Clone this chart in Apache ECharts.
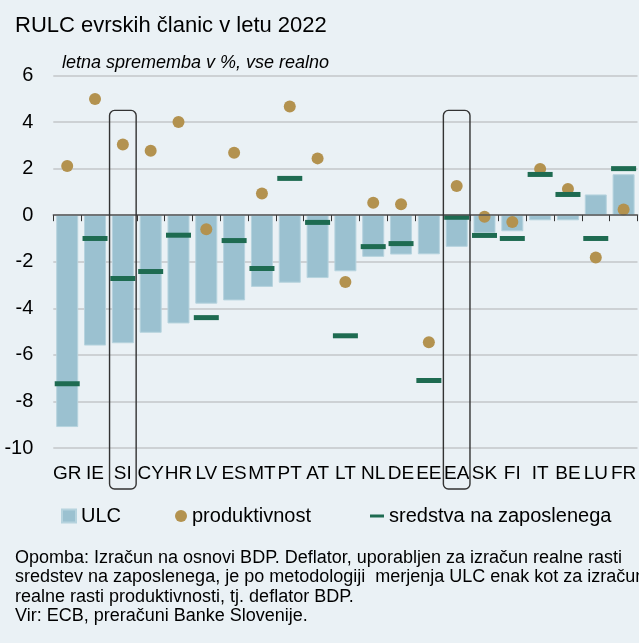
<!DOCTYPE html>
<html>
<head>
<meta charset="utf-8">
<title>RULC evrskih članic v letu 2022</title>
<style>
body{margin:0;padding:0;background:#eaf1f5;}
#main{width:639px;height:643px;}
</style>
</head>
<body>
<div id="main"></div>
<script src="https://cdn.jsdelivr.net/npm/echarts@6/dist/echarts.min.js"></script>
<script>
var countries=['GR','IE','SI','CY','HR','LV','ES','MT','PT','AT','LT','NL','DE','EE','EA','SK','FI','IT','BE','LU','FR'];
var ulc=[-9.1,-5.6,-5.5,-5.05,-4.65,-3.8,-3.66,-3.08,-2.9,-2.7,-2.41,-1.79,-1.69,-1.68,-1.36,-0.76,-0.69,-0.22,-0.22,0.89,1.76];
var produktivnost=[2.11,4.99,3.04,2.77,4.0,-0.6,2.68,0.93,4.67,2.44,-2.87,0.53,0.47,-5.46,1.25,-0.07,-0.29,1.98,1.12,-1.82,0.24];
var sredstva=[-7.24,-1.0,-2.72,-2.42,-0.86,-4.4,-1.09,-2.29,1.58,-0.31,-5.18,-1.35,-1.22,-7.1,-0.09,-0.87,-1.0,1.75,0.89,-1.0,2.0];
var boxed=['SI','EA'];
var notes='Opomba: Izračun na osnovi BDP. Deflator, uporabljen za izračun realne rasti\nsredstev na zaposlenega, je po metodologiji  merjenja ULC enak kot za izračun\nrealne rasti produktivnosti, tj. deflator BDP.\nVir: ECB, preračuni Banke Slovenije.';

var font="'Liberation Sans', Arial, sans-serif";
var colors=['#9bc1d0','#b3924f','#1e6b51'];
var myChart=echarts.init(document.getElementById('main'));
var legendText={fontFamily:font,fontSize:20,color:'#000'};
var option={
  backgroundColor:'#eaf1f5',
  animation:false,
  title:[
    {text:'RULC evrskih članic v letu 2022',left:10,top:10,
     textStyle:{fontFamily:font,fontSize:22,fontWeight:'normal',color:'#000'}},
    {text:'letna sprememba v %, vse realno',left:57,top:49,
     textStyle:{fontFamily:font,fontSize:18,fontStyle:'italic',fontWeight:'normal',color:'#000'}},
    {text:notes,left:10,top:543,
     textStyle:{fontFamily:font,fontSize:18,lineHeight:19.5,fontWeight:'normal',color:'#000'}}
  ],
  legend:[
    {data:[{name:'ULC',icon:'rect'}],left:56,top:501,itemWidth:14,itemHeight:13,textStyle:legendText},
    {data:[{name:'produktivnost',icon:'circle'}],left:170,top:501,itemWidth:12,itemHeight:12,textStyle:legendText},
    {data:[{name:'sredstva na zaposlenega',icon:'rect'}],left:365,top:501,itemWidth:14,itemHeight:3,textStyle:legendText}
  ],
  grid:{left:53.3,right:-9.3,top:75.5,bottom:195},
  xAxis:[
    {type:'category',data:countries,z:10,
     axisLine:{onZero:true,lineStyle:{color:'#555',width:1.5}},
     axisTick:{show:true,length:6,inside:false,lineStyle:{color:'#333',width:1}},
     axisLabel:{show:false}},
    {type:'category',data:countries,position:'bottom',
     axisLine:{show:false,onZero:false},axisTick:{show:false},
     axisLabel:{show:true,margin:16,interval:0,fontFamily:font,fontSize:19,color:'#000'}}
  ],
  yAxis:{type:'value',min:-10,max:6,interval:2,
    axisLine:{show:false},axisTick:{show:false},
    axisLabel:{margin:20,fontFamily:font,fontSize:20,color:'#000'},
    splitLine:{lineStyle:{color:'#c3c6c8',width:1.5}}},
  series:[
    {name:'ULC',type:'bar',data:ulc,barWidth:22,
     itemStyle:{color:colors[0],borderColor:'#b6d3de',borderWidth:1}},
    {name:'produktivnost',type:'scatter',data:produktivnost,symbol:'circle',symbolSize:12,
     itemStyle:{color:colors[1],opacity:1},z:3},
    {name:'sredstva na zaposlenega',type:'scatter',data:sredstva,symbol:'rect',symbolSize:[25,5],
     itemStyle:{color:colors[2],opacity:1},z:4}
  ]
};
myChart.setOption(option);

// rounded frames round SI and EA, placed through the axes
var frames=[];
var topY=myChart.convertToPixel({yAxisIndex:0},4.5);
var botY=myChart.convertToPixel({yAxisIndex:0},-10)+41;
for(var i=0;i<boxed.length;i++){
  var cx=myChart.convertToPixel({xAxisIndex:0},boxed[i]);
  frames.push({type:'rect',z:20,
    shape:{x:cx-13.3,y:topY,width:26.6,height:botY-topY,r:5},
    style:{fill:'none',stroke:'#333',lineWidth:1.4}});
}
myChart.setOption({graphic:frames});
</script>
</body>
</html>
